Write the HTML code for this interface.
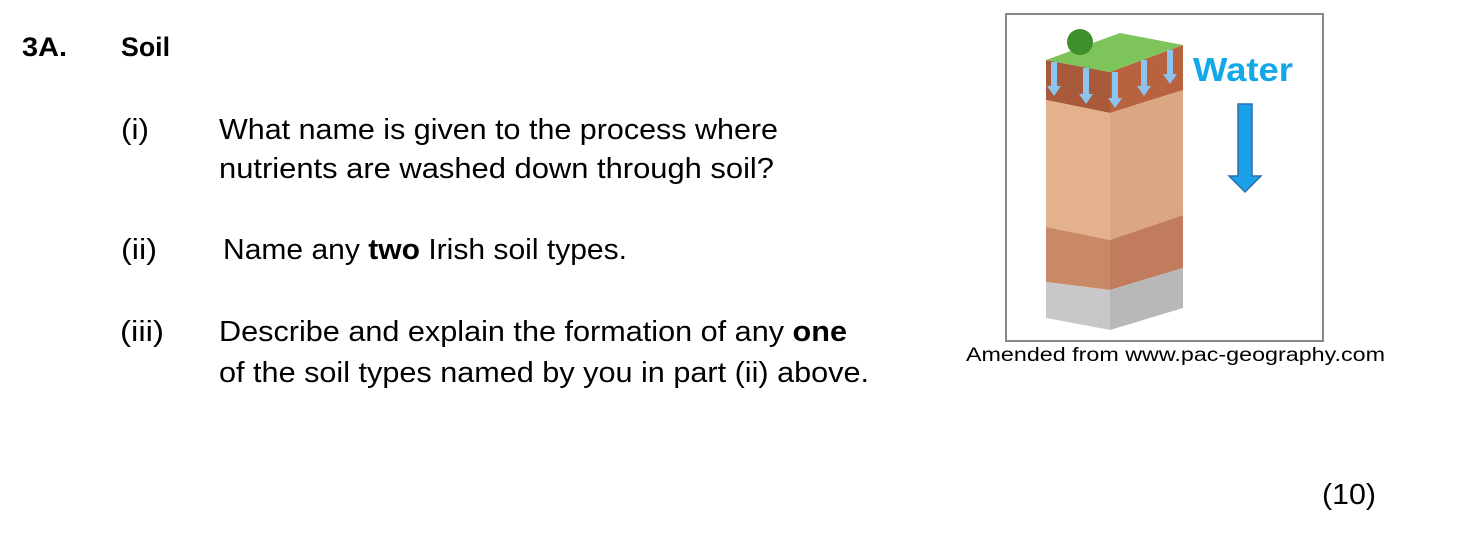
<!DOCTYPE html>
<html><head><meta charset="utf-8"><style>
html,body{margin:0;padding:0;background:#fff;width:1480px;height:552px;overflow:hidden}
svg{display:block}
text{font-family:"Liberation Sans",sans-serif;fill:#000}
</style></head><body>
<svg width="1480" height="552" viewBox="0 0 1480 552">
<g>
<text x="22" y="56" font-size="27" font-weight="bold" textLength="45" lengthAdjust="spacingAndGlyphs">3A.</text>
<text x="121" y="56" font-size="27" font-weight="bold" textLength="49" lengthAdjust="spacingAndGlyphs">Soil</text>
<text x="121" y="139" font-size="29" textLength="28" lengthAdjust="spacingAndGlyphs">(i)</text>
<text x="219" y="139" font-size="29" textLength="559" lengthAdjust="spacingAndGlyphs">What name is given to the process where</text>
<text x="219" y="178" font-size="29" textLength="555" lengthAdjust="spacingAndGlyphs">nutrients are washed down through soil?</text>
<text x="121" y="259" font-size="29" textLength="36" lengthAdjust="spacingAndGlyphs">(ii)</text>
<text x="223" y="259" font-size="29" textLength="404" lengthAdjust="spacingAndGlyphs">Name any <tspan font-weight="bold">two</tspan> Irish soil types.</text>
<text x="120" y="341" font-size="29" textLength="44" lengthAdjust="spacingAndGlyphs">(iii)</text>
<text x="219" y="341" font-size="29" textLength="628" lengthAdjust="spacingAndGlyphs">Describe and explain the formation of any <tspan font-weight="bold">one</tspan></text>
<text x="219" y="382" font-size="29" textLength="650" lengthAdjust="spacingAndGlyphs">of the soil types named by you in part (ii) above.</text>
<text x="1322" y="504" font-size="29" textLength="54" lengthAdjust="spacingAndGlyphs">(10)</text>
</g>
<g>
<rect x="1006" y="14" width="317" height="327" fill="#fff" stroke="#888" stroke-width="2"/>
<polygon points="1046,60 1110,72 1110,113 1046,100" fill="#a85a3a"/>
<polygon points="1110,72 1183,45 1183,90 1110,113" fill="#b8623f"/>
<polygon points="1046,100 1110,113 1110,240 1046,227" fill="#e3b28c"/>
<polygon points="1110,113 1183,90 1183,215 1110,240" fill="#dba682"/>
<polygon points="1046,227 1110,240 1110,290 1046,282" fill="#c98866"/>
<polygon points="1110,240 1183,215 1183,268 1110,290" fill="#c07c5d"/>
<polygon points="1046,282 1110,290 1110,330 1046,318" fill="#c8c8c8"/>
<polygon points="1110,290 1183,268 1183,308 1110,330" fill="#b8b8b8"/>
<polygon points="1046,60 1110,72 1183,45 1120,33" fill="#7dc45a"/>
<circle cx="1080" cy="42" r="13" fill="#3f8f2c"/>
<g fill="#8cc4f0">
<polygon points="1051,62 1057,62 1057,86 1061,86 1054,96 1047,86 1051,86"/>
<polygon points="1083,68 1089,68 1089,94 1093,94 1086,104 1079,94 1083,94"/>
<polygon points="1112,72 1118,72 1118,98 1122,98 1115,108 1108,98 1112,98"/>
<polygon points="1141,60 1147,60 1147,86 1151,86 1144,96 1137,86 1141,86"/>
<polygon points="1167,50 1173,50 1173,74 1177,74 1170,84 1163,74 1167,74"/>
</g>
<text x="1193" y="81" font-size="33" font-weight="bold" style="fill:#10a8e8" textLength="100" lengthAdjust="spacingAndGlyphs">Water</text>
<polygon points="1238,104 1252,104 1252,176 1261,176 1245,192 1229,176 1238,176" fill="#1aa0e6" stroke="#2f6fb0" stroke-width="1.5"/>
<text x="966" y="361" font-size="19" textLength="419" lengthAdjust="spacingAndGlyphs">Amended from www.pac-geography.com</text>
</g>
</svg>
</body></html>
